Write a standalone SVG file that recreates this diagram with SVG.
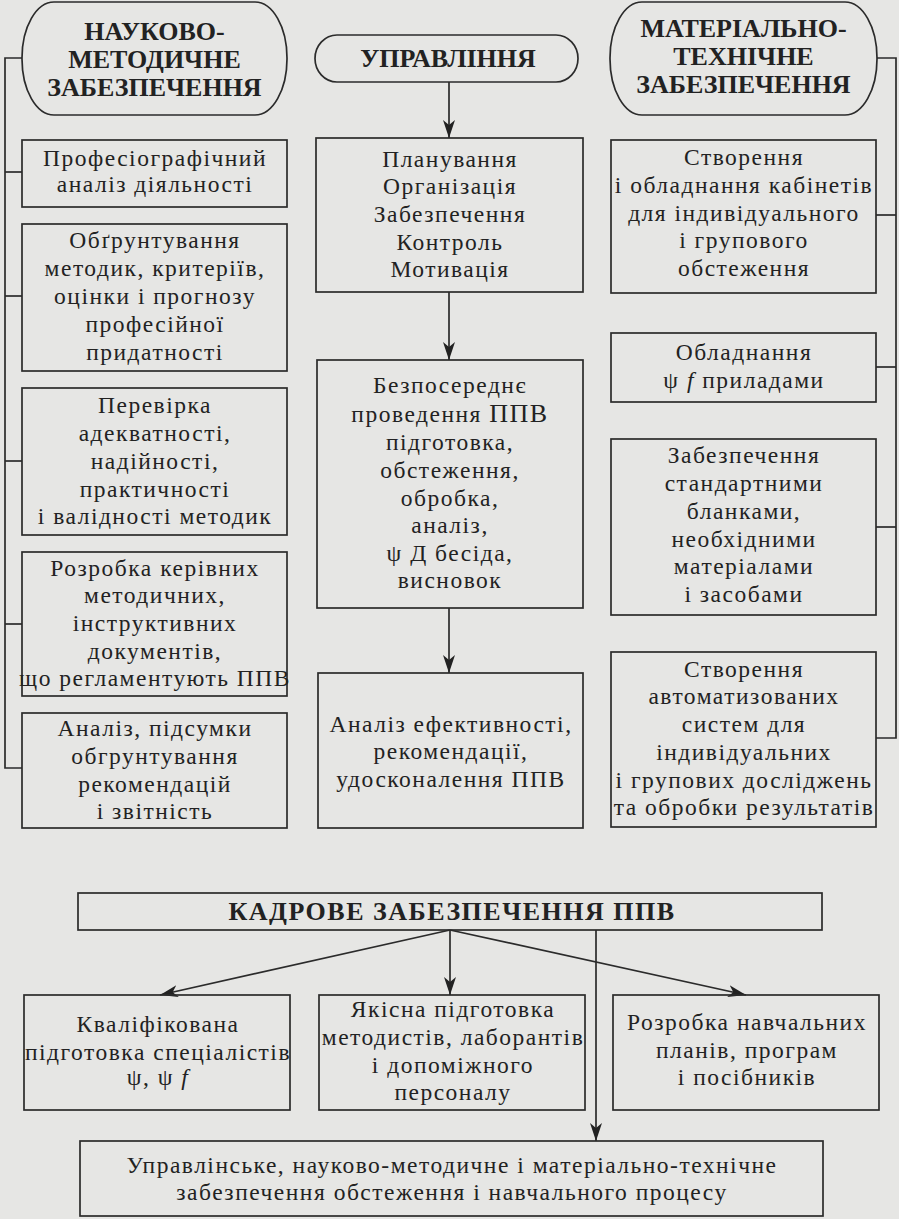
<svg xmlns="http://www.w3.org/2000/svg" width="899" height="1219" viewBox="0 0 899 1219">
<style>
.bg{fill:#e6e6e4}
.box{fill:none;stroke:#2b2b2b;stroke-width:1.7}
.ln{fill:none;stroke:#2b2b2b;stroke-width:1.7}
.t{font-family:"Liberation Serif","Times New Roman",serif;font-size:23.5px;letter-spacing:1.5px;fill:#222;text-anchor:middle}
.h{font-family:"Liberation Serif","Times New Roman",serif;font-size:26px;font-weight:bold;fill:#222;text-anchor:middle}
.i{font-style:italic}
</style>
<defs>
<marker id="ah" viewBox="0 0 18 12" refX="18" refY="6" markerWidth="18" markerHeight="12" markerUnits="userSpaceOnUse" orient="auto">
<path d="M0,0 L18,6 L0,12 L5,6 Z" fill="#222"/>
</marker>
</defs>
<rect class="bg" x="0" y="0" width="899" height="1219"/>

<g id="connectors">
<polyline class="ln" points="22,58 5,58 5,768 22,768"/>
<line class="ln" x1="5" y1="172" x2="22" y2="172"/>
<line class="ln" x1="5" y1="296" x2="22" y2="296"/>
<line class="ln" x1="5" y1="461" x2="22" y2="461"/>
<line class="ln" x1="5" y1="624" x2="22" y2="624"/>
<polyline class="ln" points="877,58 896,58 896,738 876,738"/>
<line class="ln" x1="876" y1="215" x2="896" y2="215"/>
<line class="ln" x1="876" y1="367" x2="896" y2="367"/>
<line class="ln" x1="876" y1="527" x2="896" y2="527"/>
<line class="ln" x1="449" y1="82" x2="449" y2="138" marker-end="url(#ah)"/>
<line class="ln" x1="449" y1="292" x2="449" y2="360" marker-end="url(#ah)"/>
<line class="ln" x1="449" y1="608" x2="449" y2="673" marker-end="url(#ah)"/>
<line class="ln" x1="450" y1="930" x2="160" y2="995" marker-end="url(#ah)"/>
<line class="ln" x1="450" y1="930" x2="450" y2="995" marker-end="url(#ah)"/>
<line class="ln" x1="450" y1="930" x2="746" y2="995" marker-end="url(#ah)"/>
<line class="ln" x1="596" y1="930" x2="596" y2="1141" marker-end="url(#ah)"/>
</g>

<g id="nm-head">
<rect class="box" x="22" y="2" width="265" height="113" rx="32" ry="56"/>
<text class="h" x="154.5" y="40">НАУКОВО-</text>
<text class="h" x="154.5" y="68">МЕТОДИЧНЕ</text>
<text class="h" x="154.5" y="96">ЗАБЕЗПЕЧЕННЯ</text>
</g>
<g id="upr-head">
<rect class="box" x="315" y="35" width="263" height="47" rx="22" ry="23.5"/>
<text class="h" x="448" y="67">УПРАВЛІННЯ</text>
</g>
<g id="mt-head">
<rect class="box" x="610" y="2" width="267" height="113" rx="32" ry="56"/>
<text class="h" x="743.5" y="37">МАТЕРІАЛЬНО-</text>
<text class="h" x="743.5" y="65">ТЕХНІЧНЕ</text>
<text class="h" x="743.5" y="93">ЗАБЕЗПЕЧЕННЯ</text>
</g>

<g id="l1">
<rect class="box" x="22" y="140" width="265" height="67"/>
<text class="t" x="155" y="166">Професіографічний</text>
<text class="t" x="155" y="192">аналіз діяльності</text>
</g>
<g id="l2">
<rect class="box" x="22" y="224" width="265" height="147"/>
<text class="t" x="155" y="248">Обґрунтування</text>
<text class="t" x="155" y="276">методик, критеріїв,</text>
<text class="t" x="155" y="304">оцінки і прогнозу</text>
<text class="t" x="155" y="332">професійної</text>
<text class="t" x="155" y="360">придатності</text>
</g>
<g id="l3">
<rect class="box" x="22" y="388" width="265" height="147"/>
<text class="t" x="155" y="413">Перевірка</text>
<text class="t" x="155" y="441">адекватності,</text>
<text class="t" x="155" y="469">надійності,</text>
<text class="t" x="155" y="497">практичності</text>
<text class="t" x="155" y="524">і валідності методик</text>
</g>
<g id="l4">
<rect class="box" x="22" y="552" width="265" height="144"/>
<text class="t" x="155" y="576">Розробка керівних</text>
<text class="t" x="155" y="603">методичних,</text>
<text class="t" x="155" y="631">інструктивних</text>
<text class="t" x="155" y="659">документів,</text>
<text class="t" x="155" y="686">що регламентують ППВ</text>
</g>
<g id="l5">
<rect class="box" x="22" y="713" width="265" height="115"/>
<text class="t" x="155" y="736">Аналіз, підсумки</text>
<text class="t" x="155" y="764">обгрунтування</text>
<text class="t" x="155" y="792">рекомендацій</text>
<text class="t" x="155" y="819">і звітність</text>
</g>

<g id="m1">
<rect class="box" x="316" y="138" width="267" height="154"/>
<text class="t" x="450" y="167">Планування</text>
<text class="t" x="450" y="194">Організація</text>
<text class="t" x="450" y="222">Забезпечення</text>
<text class="t" x="450" y="250">Контроль</text>
<text class="t" x="450" y="277">Мотивація</text>
</g>
<g id="m2">
<rect class="box" x="317" y="360" width="266" height="248"/>
<text class="t" x="450" y="393">Безпосереднє</text>
<text class="t" x="450" y="422">проведення <tspan font-size="26">ППВ</tspan></text>
<text class="t" x="450" y="450">підготовка,</text>
<text class="t" x="450" y="478">обстеження,</text>
<text class="t" x="450" y="506">обробка,</text>
<text class="t" x="450" y="533">аналіз,</text>
<text class="t" x="450" y="561">ψ Д бесіда,</text>
<text class="t" x="450" y="588">висновок</text>
</g>
<g id="m3">
<rect class="box" x="318" y="673" width="265" height="155"/>
<text class="t" x="451" y="732">Аналіз ефективності,</text>
<text class="t" x="451" y="759">рекомендації,</text>
<text class="t" x="451" y="787">удосконалення ППВ</text>
</g>

<g id="r1">
<rect class="box" x="611" y="140" width="265" height="153"/>
<text class="t" x="744" y="165">Створення</text>
<text class="t" x="744" y="193">і обладнання кабінетів</text>
<text class="t" x="744" y="221">для індивідуального</text>
<text class="t" x="744" y="248">і групового</text>
<text class="t" x="744" y="276">обстеження</text>
</g>
<g id="r2">
<rect class="box" x="611" y="333" width="265" height="69"/>
<text class="t" x="744" y="360">Обладнання</text>
<text class="t" x="744" y="388">ψ <tspan class="i">f</tspan> приладами</text>
</g>
<g id="r3">
<rect class="box" x="611" y="439" width="265" height="176"/>
<text class="t" x="744" y="463">Забезпечення</text>
<text class="t" x="744" y="491">стандартними</text>
<text class="t" x="744" y="519">бланками,</text>
<text class="t" x="744" y="547">необхідними</text>
<text class="t" x="744" y="574">матеріалами</text>
<text class="t" x="744" y="602">і засобами</text>
</g>
<g id="r4">
<rect class="box" x="611" y="652" width="265" height="175"/>
<text class="t" x="744" y="677">Створення</text>
<text class="t" x="744" y="704">автоматизованих</text>
<text class="t" x="744" y="732">систем для</text>
<text class="t" x="744" y="760">індивідуальних</text>
<text class="t" x="744" y="788">і групових досліджень</text>
<text class="t" x="744" y="815">та обробки результатів</text>
</g>

<g id="kadr">
<rect class="box" x="78" y="893" width="744" height="37"/>
<text class="h" x="452" y="920" font-size="25" letter-spacing="1.5">КАДРОВЕ ЗАБЕЗПЕЧЕННЯ ППВ</text>
</g>
<g id="b1">
<rect class="box" x="24" y="995" width="266" height="115"/>
<text class="t" x="158" y="1032">Кваліфікована</text>
<text class="t" x="158" y="1060">підготовка спеціалістів</text>
<text class="t" x="158" y="1085">ψ, ψ <tspan class="i">f</tspan></text>
</g>
<g id="b2">
<rect class="box" x="319" y="995" width="266" height="115"/>
<text class="t" x="453" y="1017">Якісна підготовка</text>
<text class="t" x="453" y="1045">методистів, лаборантів</text>
<text class="t" x="453" y="1073">і допоміжного</text>
<text class="t" x="453" y="1100">персоналу</text>
</g>
<g id="b3">
<rect class="box" x="613" y="995" width="266" height="115"/>
<text class="t" x="747" y="1030">Розробка навчальних</text>
<text class="t" x="747" y="1058">планів, програм</text>
<text class="t" x="747" y="1085">і посібників</text>
</g>
<g id="b4">
<rect class="box" x="80" y="1141" width="743" height="75"/>
<text class="t" x="452" y="1173">Управлінське, науково-методичне і матеріально-технічне</text>
<text class="t" x="452" y="1200">забезпечення обстеження і навчального процесу</text>
</g>
</svg>
